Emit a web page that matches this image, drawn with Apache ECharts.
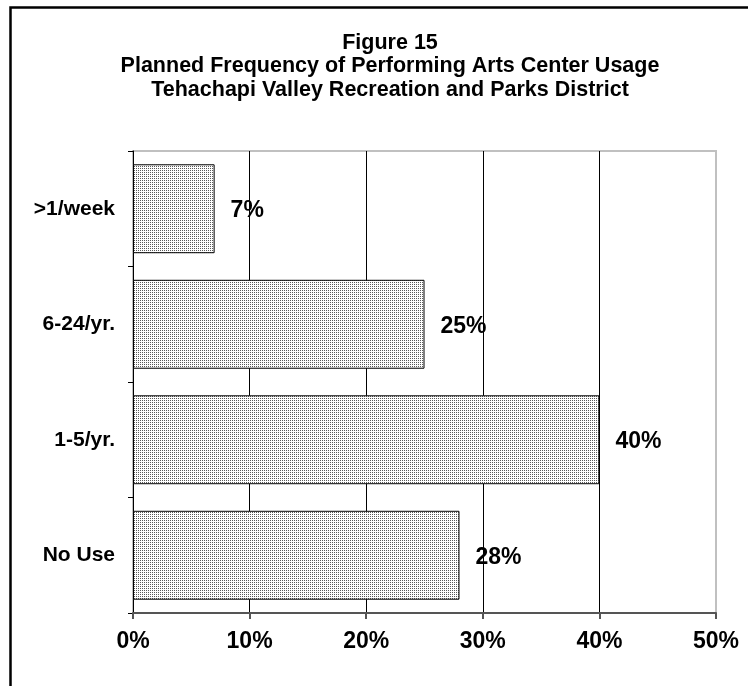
<!DOCTYPE html>
<html>
<head>
<meta charset="utf-8">
<script src="https://cdn.jsdelivr.net/npm/echarts@6/dist/echarts.min.js"></script>
<style>
  html, body { margin: 0; padding: 0; background: #ffffff; }
  #chart { width: 748px; height: 686px; }
</style>
</head>
<body>
<div id="chart"></div>
<script>
const titleLines = [
  'Figure 15',
  'Planned Frequency of Performing Arts Center Usage',
  'Tehachapi Valley Recreation and Parks District'
];
const categories = ['No Use', '1-5/yr.', '6-24/yr.', '>1/week'];
const values = [28, 40, 25, 7];
const xTicks = { min: 0, max: 50, interval: 10 };

const FONT = '"Liberation Sans", Arial, sans-serif';

// dotted fill pattern
const pat = document.createElement('canvas');
pat.width = 2; pat.height = 2;
const pctx = pat.getContext('2d');
pctx.fillStyle = '#ffffff';
pctx.fillRect(0, 0, 2, 2);
pctx.fillStyle = '#5a5a5a';
pctx.fillRect(0, 0, 1, 1);

const chart = echarts.init(document.getElementById('chart'), null, { renderer: 'canvas' });
chart.setOption({
  backgroundColor: '#ffffff',
  animation: false,
  title: {
    text: titleLines.join('\n'),
    left: 385,
    textAlign: 'center',
    top: 26,
    textStyle: { fontFamily: FONT, fontWeight: 'bold', fontSize: 21.5, lineHeight: 23.5, color: '#000' }
  },
  graphic: [{
    type: 'rect',
    shape: { x: 10.5, y: 7.5, width: 800, height: 800 },
    style: { fill: 'none', stroke: '#000', lineWidth: 2.5 },
    silent: true
  }],
  grid: {
    left: 133, right: 32, top: 151, bottom: 73,
    show: true, borderColor: '#c0c0c0', borderWidth: 2,
    containLabel: false
  },
  xAxis: {
    type: 'value',
    min: xTicks.min, max: xTicks.max, interval: xTicks.interval,
    axisLine: { show: true, lineStyle: { color: '#555', width: 2 } },
    axisTick: { show: true, length: 6, lineStyle: { color: '#555', width: 2 } },
    axisLabel: { formatter: '{value}%', fontFamily: FONT, fontWeight: 'bold', fontSize: 23, color: '#000', margin: 17 },
    splitLine: { show: true, showMinLine: false, showMaxLine: false, lineStyle: { color: '#000', width: 1 } }
  },
  yAxis: {
    type: 'category',
    data: categories,
    axisLine: { show: true, lineStyle: { color: '#000', width: 1 } },
    axisTick: { show: true, length: 5, lineStyle: { color: '#000' } },
    axisLabel: { fontFamily: FONT, fontWeight: 'bold', fontSize: 21, color: '#000', margin: 18 },
    splitLine: { show: false }
  },
  series: [{
    type: 'bar',
    data: values,
    barCategoryGap: '23%',
    itemStyle: { color: { image: pat, repeat: 'repeat' }, borderColor: '#000', borderWidth: 1 },
    label: {
      show: true, position: 'right', distance: 16, offset: [0, 2],
      formatter: '{c}%',
      fontFamily: FONT, fontWeight: 'bold', fontSize: 23, color: '#000'
    }
  }]
});
</script>
</body>
</html>
